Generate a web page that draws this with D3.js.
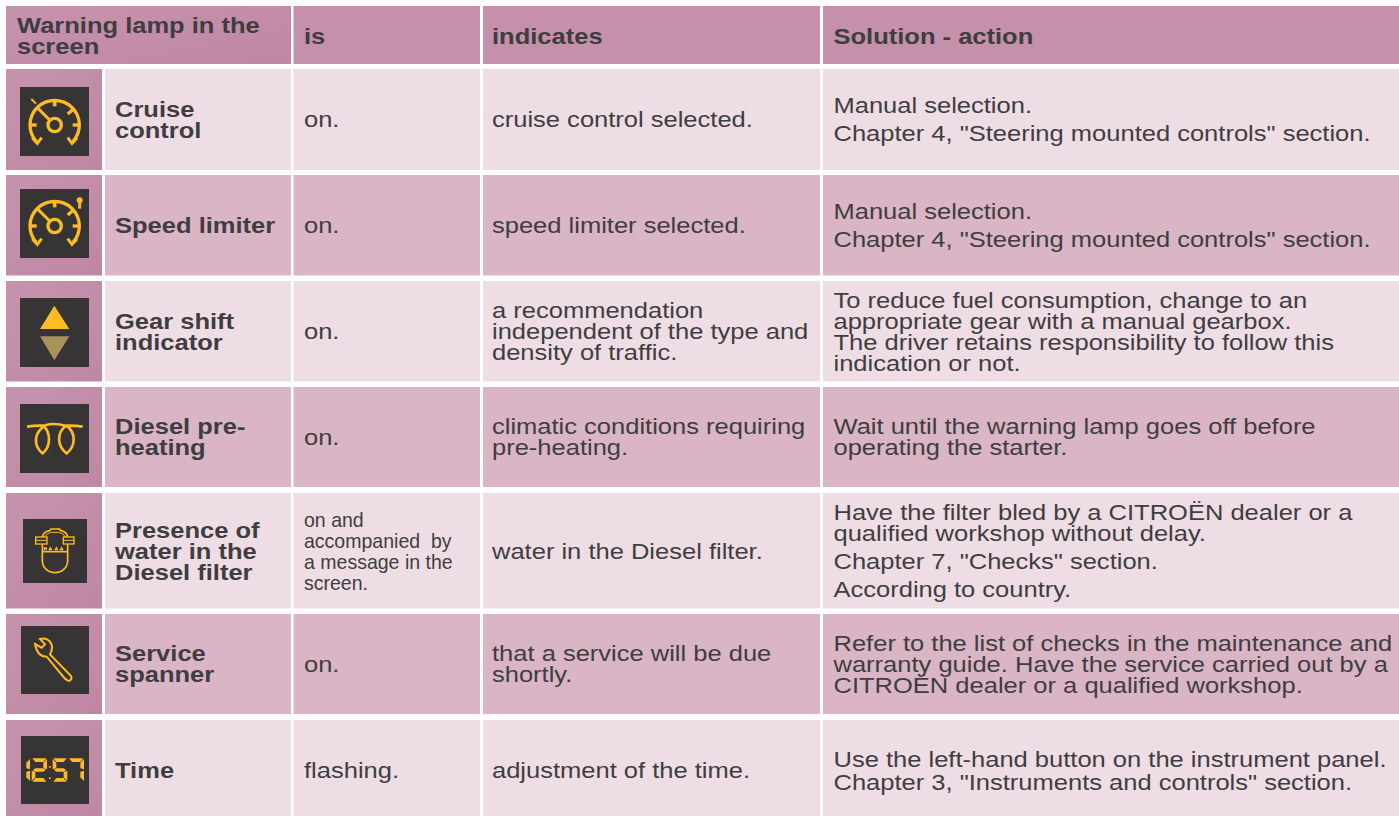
<!DOCTYPE html>
<html>
<head>
<meta charset="utf-8">
<script src="https://cdn.jsdelivr.net/npm/d3@7"></script>
<style>
  html, body { margin: 0; padding: 0; background: #fff; overflow: hidden; }
  svg { display: block; }
  text { font-family: "Liberation Sans", Arial, sans-serif; fill: #403d40; white-space: pre; }
</style>
</head>
<body>
<script>
  // table content
  var headers = [["Warning lamp in the", "screen"], ["is"], ["indicates"], ["Solution - action"]];
  var lamps = ["cruise", "limiter", "gear", "preheat", "water", "service", "time"];
  var lampNames = [
    ["Cruise", "control"],
    ["Speed limiter"],
    ["Gear shift", "indicator"],
    ["Diesel pre-", "heating"],
    ["Presence of", "water in the", "Diesel filter"],
    ["Service", "spanner"],
    ["Time"]
  ];
  var states = [
    ["on."], ["on."], ["on."], ["on."],
    ["on and", "accompanied  by", "a message in the", "screen."],
    ["on."], ["flashing."]
  ];
  var indications = [
    ["cruise control selected."],
    ["speed limiter selected."],
    ["a recommendation", "independent of the type and", "density of traffic."],
    ["climatic conditions requiring", "pre-heating."],
    ["water in the Diesel filter."],
    ["that a service will be due", "shortly."],
    ["adjustment of the time."]
  ];
  // each inner list is a paragraph
  var solutions = [
    [["Manual selection."], ["Chapter 4, \"Steering mounted controls\" section."]],
    [["Manual selection."], ["Chapter 4, \"Steering mounted controls\" section."]],
    [["To reduce fuel consumption, change to an", "appropriate gear with a manual gearbox.", "The driver retains responsibility to follow this", "indication or not."]],
    [["Wait until the warning lamp goes off before", "operating the starter."]],
    [["Have the filter bled by a CITROËN dealer or a", "qualified workshop without delay."], ["Chapter 7, \"Checks\" section."], ["According to country."]],
    [["Refer to the list of checks in the maintenance and", "warranty guide. Have the service carried out by a", "CITROËN dealer or a qualified workshop."]],
    [["Use the left-hand button on the instrument panel."], ["Chapter 3, \"Instruments and controls\" section."]]
  ];
  var clockDigits = ["1", "2", "5", "7"];

  var svgWidth = 1399, svgHeight = 816;

  var svg = d3.select('body').append('svg')
    .attr('width', svgWidth)
    .attr('height', svgHeight);

  // layout scales, rows and columns are not evenly sized in the original
  var columns = ["icon", "name", "state", "indication", "solution"];
  var colLeft = d3.scaleOrdinal().domain(columns).range([6, 105, 293.5, 483, 823]);
  var colRight = d3.scaleOrdinal().domain(columns).range([102, 291, 480, 820, 1399]);
  var textLeft = d3.scaleOrdinal().domain(columns).range([6, 115, 304, 492, 833.5]);
  var rowTop = d3.scaleOrdinal().domain(lamps).range([69, 175, 281, 387, 493, 614, 720]);
  var rowBottom = d3.scaleOrdinal().domain(lamps).range([170, 275.5, 381.5, 487, 608.5, 714, 821]);
  var rowFill = d3.scaleOrdinal().domain(lamps)
    .range(["#eedde5", "#dab5c5", "#eedde5", "#dab5c5", "#eedde5", "#dab5c5", "#eedde5"]);
  var iconLeft = d3.scaleOrdinal().domain(lamps).range([20, 20, 20, 20, 23, 21, 21]);
  var iconTop = d3.scaleOrdinal().domain(lamps).range([87, 189, 298, 404, 519, 626, 736]);
  var iconSize = d3.scaleOrdinal().domain(lamps).range([69, 69, 69, 69, 64, 68, 68]);

  var headerTop = 6, headerBottom = 64;
  var fontSize = 22, stretch = 1.16, leading = 21, paragraphGap = 7;
  var amber = '#fdbb24';

  var defs = svg.append('defs');
  var grad = defs.append('linearGradient').attr('id', 'iconCell')
    .attr('x1', 0).attr('y1', 0).attr('x2', 1).attr('y2', 1);
  grad.append('stop').attr('offset', 0).attr('stop-color', '#c693ad');
  grad.append('stop').attr('offset', 1).attr('stop-color', '#bf87a3');

  // writes lines stacked around a vertical centre
  function writeLines(lines, x, centre, bold, size, sx, lead, gaps) {
    var total = lead * (lines.length - 1) + d3.sum(gaps || []);
    var y = centre - total / 2 + size * 0.36;
    lines.forEach(function(line, i) {
      if (i > 0) { y += lead + (gaps ? gaps[i - 1] : 0); }
      svg.append('text')
        .attr('transform', 'translate(' + x + ',' + y + ') scale(' + sx + ',1)')
        .attr('font-size', size)
        .attr('font-weight', bold ? 'bold' : 'normal')
        .text(line);
    });
  }

  function stroke(g, d, w) {
    return g.append('path').attr('d', d).attr('fill', 'none')
      .attr('stroke', amber).attr('stroke-width', w);
  }

  // speedometer shared by cruise control and speed limiter, icon units are a third of a pixel
  function gauge(g, cy) {
    var cx = 104;
    var dial = d3.arc().innerRadius(69).outerRadius(79)
      .startAngle(-2.3).endAngle(2.3);
    g.append('path').attr('d', dial()).attr('fill', amber)
      .attr('transform', 'translate(' + cx + ',' + cy + ')');
    g.append('circle').attr('cx', cx).attr('cy', cy).attr('r', 20)
      .attr('fill', 'none').attr('stroke', amber).attr('stroke-width', 10);
    stroke(g, 'M' + (cx - 15) + ',' + (cy - 15) + 'L' + (cx - 50) + ',' + (cy - 50), 9);
    stroke(g, 'M' + cx + ',' + (cy - 75) + 'V' + (cy - 56), 11);
    stroke(g, 'M' + (cx - 75) + ',' + cy + 'H' + (cx - 54), 10);
    stroke(g, 'M' + (cx + 75) + ',' + cy + 'H' + (cx + 54), 10);
    stroke(g, 'M' + (cx + 54) + ',' + (cy - 46) + 'L' + (cx + 39) + ',' + (cy - 33), 10);
    // arrow heads at the two dial ends
    stroke(g, 'M' + (cx - 67) + ',' + (cy + 39) + 'L' + (cx - 52) + ',' + (cy + 55) + 'L' + (cx - 39) + ',' + (cy + 38), 9);
    stroke(g, 'M' + (cx + 67) + ',' + (cy + 39) + 'L' + (cx + 52) + ',' + (cy + 55) + 'L' + (cx + 39) + ',' + (cy + 38), 9);
  }

  // seven segment digit, segments drawn from a lit-list
  var segmentsOf = { "1": "bc", "2": "abged", "5": "afgcd", "7": "abc" };
  function digit(g, name, x, y, w, h) {
    var t = 11, m = h / 2, gap = 2;
    var shapes = {
      a: [[x + gap, y], [x + w - gap, y], [x + w - t, y + t], [x + t, y + t]],
      b: [[x + w, y + gap], [x + w, y + m - gap], [x + w - t, y + m - gap - 3], [x + w - t, y + t + gap]],
      c: [[x + w, y + m + gap], [x + w, y + h - gap], [x + w - t, y + h - t - gap], [x + w - t, y + m + gap + 3]],
      d: [[x + gap, y + h], [x + w - gap, y + h], [x + w - t, y + h - t], [x + t, y + h - t]],
      e: [[x, y + m + gap], [x, y + h - gap], [x + t, y + h - t - gap], [x + t, y + m + gap + 3]],
      f: [[x, y + gap], [x, y + m - gap], [x + t, y + m - gap - 3], [x + t, y + t + gap]],
      g: [[x + gap + 2, y + m], [x + t, y + m - 5], [x + w - t, y + m - 5], [x + w - gap - 2, y + m], [x + w - t, y + m + 5], [x + t, y + m + 5]]
    };
    segmentsOf[name].split('').forEach(function(s) {
      g.append('polygon').attr('points', shapes[s].join(' ')).attr('fill', amber);
    });
  }

  var drawIcon = {
    cruise: function(g) {
      gauge(g, 114);
      stroke(g, 'M34,36L48,50', 6);
    },
    limiter: function(g) {
      gauge(g, 111);
      g.append('circle').attr('cx', 179).attr('cy', 34).attr('r', 9).attr('fill', amber);
      stroke(g, 'M179,38V59', 9);
    },
    gear: function(g) {
      g.append('polygon').attr('points', '103,23 148,93 60,93').attr('fill', amber);
      g.append('polygon').attr('points', '60,115 148,115 103,187').attr('fill', '#a8935e');
    },
    preheat: function(g) {
      stroke(g, 'M21,68Q45,64 70,65C92,85 94,125 68,148C38,125 42,85 76,64Q103,55 138,66C110,85 110,125 140,148C170,125 166,85 140,65Q165,64 188,68', 8);
    },
    water: function(g) {
      // housing
      stroke(g, 'M58,76V125A38,36 0 0 0 134,125V76', 5);
      stroke(g, 'M58,98H134', 5);
      stroke(g, 'M64,94V87H70V94M78,94L82,86L86,94M96,94L100,86L104,94M112,94L116,86L120,94', 4);
      // flanges
      g.append('rect').attr('x', 38).attr('y', 54).attr('width', 34).attr('height', 21)
        .attr('fill', 'none').attr('stroke', amber).attr('stroke-width', 4);
      g.append('rect').attr('x', 121).attr('y', 54).attr('width', 32).attr('height', 21)
        .attr('fill', 'none').attr('stroke', amber).attr('stroke-width', 4);
      stroke(g, 'M38,64H72M121,64H153', 3);
      // dome
      stroke(g, 'M58,54C60,42 70,36 82,34L84,30H110L112,34C124,36 132,42 134,54', 5);
      stroke(g, 'M66,54C68,46 76,42 86,40H106C116,42 124,46 126,54', 3);
    },
    service: function(g) {
      stroke(g, 'M42,54L62,65L72,55L57,39C72,34 87,42 92,56C95,68 91,78 87,85L149,149C155,158 148,168 139,163L132,158L77,92C56,92 46,78 42,54Z', 6);
    },
    time: function(g) {
      var x = [15, 32, 95, 142], w = [12, 46, 44, 47];
      clockDigits.forEach(function(d, i) {
        digit(g, d, x[i], 67, w[i], 70);
      });
      g.append('rect').attr('x', 84).attr('y', 90).attr('width', 5).attr('height', 5).attr('fill', amber);
      g.append('rect').attr('x', 84).attr('y', 124).attr('width', 5).attr('height', 5).attr('fill', amber);
    }
  };

  // header
  svg.append('rect').attr('x', colLeft("icon")).attr('y', headerTop)
    .attr('width', colRight("name") - colLeft("icon")).attr('height', headerBottom - headerTop)
    .attr('fill', 'url(#iconCell)');
  ["state", "indication", "solution"].forEach(function(c) {
    svg.append('rect').attr('x', colLeft(c)).attr('y', headerTop)
      .attr('width', colRight(c) - colLeft(c)).attr('height', headerBottom - headerTop)
      .attr('fill', '#c490aa');
  });
  var headerX = [17, textLeft("state"), textLeft("indication"), textLeft("solution")];
  headers.forEach(function(h, i) {
    writeLines(h, headerX[i], 36, true, fontSize, stretch, leading);
  });

  // rows
  lamps.forEach(function(lamp, i) {
    var top = rowTop(lamp), bottom = rowBottom(lamp), centre = (top + bottom) / 2;
    columns.forEach(function(c) {
      svg.append('rect').attr('x', colLeft(c)).attr('y', top)
        .attr('width', colRight(c) - colLeft(c)).attr('height', bottom - top)
        .attr('fill', c == "icon" ? 'url(#iconCell)' : rowFill(lamp));
    });

    writeLines(lampNames[i], textLeft("name"), centre, true, fontSize, stretch, leading);

    if (states[i].length > 1) {
      writeLines(states[i], textLeft("state"), centre, false, 21, 0.93, leading);
    } else {
      writeLines(states[i], textLeft("state"), centre, false, fontSize, stretch, leading);
    }

    writeLines(indications[i], textLeft("indication"), centre, false, fontSize, stretch, leading);

    var lines = [], gaps = [];
    solutions[i].forEach(function(par) {
      par.forEach(function(line, l) {
        if (lines.length > 0) { gaps.push(l == 0 ? (lamp == "time" ? 2 : paragraphGap) : 0); }
        lines.push(line);
      });
    });
    writeLines(lines, textLeft("solution"), centre, false, fontSize, stretch, leading, gaps);

    var g = svg.append('g')
      .attr('transform', 'translate(' + iconLeft(lamp) + ',' + iconTop(lamp) + ') scale(' + 1 / 3 + ')');
    g.append('rect').attr('width', iconSize(lamp) * 3).attr('height', iconSize(lamp) * 3).attr('fill', '#373435');
    drawIcon[lamp](g);
  });
</script>
</body>
</html>
